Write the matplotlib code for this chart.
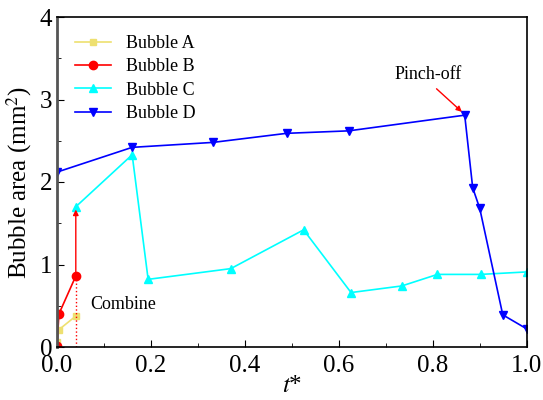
import numpy as np
import matplotlib
matplotlib.use("Agg")
import matplotlib.pyplot as plt
from matplotlib.ticker import MultipleLocator

plt.rcParams['font.family'] = ['Liberation Serif', 'DejaVu Serif']
plt.rcParams['mathtext.fontset'] = 'stix'

# bubble data
t_a = [0.0, 0.004, 0.04]
area_a = [0.06, 0.21, 0.375]

t_b = [0.0, 0.004, 0.04]
area_b = [0.01, 0.40, 0.86]

t_c = [0.04, 0.16, 0.194, 0.37, 0.525, 0.626, 0.734, 0.81, 0.902, 1.0]
area_c = [1.70, 2.33, 0.82, 0.95, 1.42, 0.66, 0.74, 0.88, 0.88, 0.91]

t_d = [0.0, 0.16, 0.332, 0.489, 0.621, 0.868, 0.885, 0.90, 0.949, 1.0]
area_d = [2.12, 2.42, 2.48, 2.59, 2.62, 2.81, 1.93, 1.68, 0.39, 0.22]

fig = plt.figure(figsize=(5.43, 4.0), dpi=100)
ax = fig.add_axes([0.105, 0.1325, 0.865, 0.825])

ax.plot(t_a, area_a, color='#eee070', marker='s', ms=5, lw=1.2, label='Bubble A')
ax.plot(t_b, area_b, color='red', marker='o', ms=6, lw=1.2, label='Bubble B')
ax.plot(t_c, area_c, color='cyan', marker='^', ms=6, lw=1.2, label='Bubble C')
ax.plot(t_d, area_d, color='blue', marker='v', ms=6, lw=1.2, label='Bubble D')

# combine markers
ax.plot([t_b[-1], t_b[-1]], [0, area_b[-1]], color='red', ls=':', lw=1)
ax.annotate('', xy=(t_c[0], area_c[0]), xytext=(t_b[-1], area_b[-1]),
            arrowprops=dict(arrowstyle='-|>', color='red', lw=1, mutation_scale=8))
ax.text(0.07, 0.51, 'Combine', fontsize=13, va='center')

ax.text(0.79, 3.30, 'Pinch-off', fontsize=13, ha='center', va='center')
ax.annotate('', xy=(0.862, 2.85), xytext=(0.808, 3.13),
            arrowprops=dict(arrowstyle='-|>', color='red', lw=1, mutation_scale=8,
                            shrinkA=0, shrinkB=0))

ax.set_xlim(0, 1)
ax.set_ylim(0, 4)
ax.xaxis.set_major_locator(MultipleLocator(0.2))
ax.xaxis.set_minor_locator(MultipleLocator(0.1))
ax.yaxis.set_major_locator(MultipleLocator(1))
ax.yaxis.set_minor_locator(MultipleLocator(0.5))
ax.tick_params(which='both', direction='in', labelsize=18)
ax.tick_params(which='major', length=5)
ax.tick_params(which='minor', length=3)
ax.tick_params(axis='x', pad=6)
for s in ax.spines.values():
    s.set_linewidth(1.2)
ax.spines['left'].set_color('#555555')
ax.spines['left'].set_linewidth(2)

ax.set_xlabel('$t$*', fontsize=18, labelpad=-2)
ax.set_ylabel('Bubble area (mm$^2$)', fontsize=18, labelpad=4)

ax.legend(loc='upper left', frameon=False, fontsize=13, handlelength=2.0,
          labelspacing=0.35, borderaxespad=0.6)

fig.savefig('out.png', dpi=100)
